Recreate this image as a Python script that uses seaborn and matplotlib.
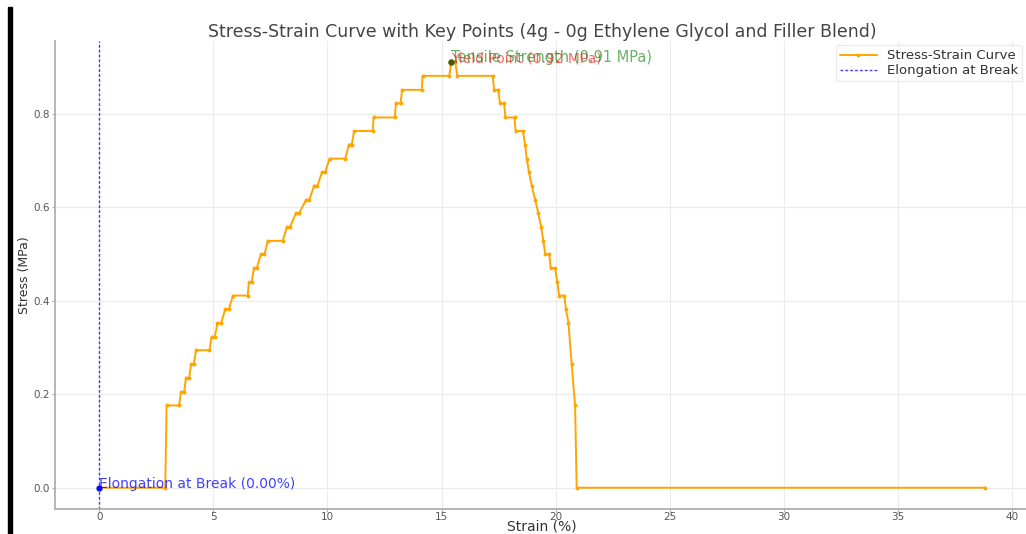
import matplotlib
matplotlib.use("Agg")
import matplotlib.pyplot as plt
from matplotlib.patches import Rectangle
import pandas as pd
import seaborn as sns

# ---- data ----
strain = [0.00, 2.89,
          2.95, 3.50, 3.58, 3.72, 3.80, 3.94, 4.02, 4.14, 4.24, 4.83,
          4.92, 5.06, 5.18, 5.34, 5.52, 5.68, 5.86, 6.50, 6.56, 6.68,
          6.78, 6.90, 7.08, 7.24, 7.38, 8.04, 8.22, 8.36, 8.62, 8.76,
          9.06, 9.20, 9.42, 9.56, 9.76, 9.90, 10.09, 10.78, 10.94, 11.06,
          11.17, 11.98, 12.02, 12.95, 13.00, 13.20, 13.27, 14.13, 14.17, 15.34,
          15.42, 15.60,
          15.69, 17.24, 17.30, 17.48, 17.56, 17.74, 17.80, 18.20, 18.24, 18.56,
          18.66, 18.73, 18.83, 18.95, 19.10, 19.24, 19.36, 19.46, 19.54, 19.72,
          19.78, 19.97, 20.07, 20.15, 20.37, 20.45, 20.56, 20.70, 20.85,
          20.92, 38.80]
stress = [0.000, 0.000,
          0.176, 0.176, 0.205, 0.205, 0.235, 0.235, 0.264, 0.264, 0.294, 0.294,
          0.323, 0.323, 0.352, 0.352, 0.382, 0.382, 0.411, 0.411, 0.440, 0.440,
          0.470, 0.470, 0.499, 0.499, 0.528, 0.528, 0.558, 0.558, 0.587, 0.587,
          0.616, 0.616, 0.646, 0.646, 0.675, 0.675, 0.704, 0.704, 0.734, 0.734,
          0.763, 0.763, 0.792, 0.792, 0.822, 0.822, 0.851, 0.851, 0.881, 0.881,
          0.910, 0.910,
          0.881, 0.881, 0.851, 0.851, 0.822, 0.822, 0.792, 0.792, 0.763, 0.763,
          0.734, 0.704, 0.675, 0.646, 0.616, 0.587, 0.558, 0.528, 0.499, 0.499,
          0.470, 0.470, 0.440, 0.411, 0.411, 0.382, 0.352, 0.264, 0.176,
          0.000, 0.000]

max_stress = 0.91
max_strain = 15.40
yield_stress = 0.91
elongation_break = 0.00

title = "Stress-Strain Curve with Key Points (4g - 0g Ethylene Glycol and Filler Blend)"

df = pd.DataFrame({"Strain": strain, "Stress": stress})

sns.set_theme(style="whitegrid")
plt.rcParams["font.family"] = ["DejaVu Sans"]

fig = plt.figure(figsize=(10.26, 5.34), dpi=100)
ax = fig.add_axes([55 / 1026, 25 / 534, 974 / 1026, 468 / 534])

sns.lineplot(data=df, x="Strain", y="Stress", ax=ax, estimator=None, sort=False,
             color="orange", linewidth=1.4, marker="o", markersize=2.8,
             markeredgewidth=0, label="Stress-Strain Curve")

ax.axvline(elongation_break, color="blue", linestyle=(0, (2, 1.5)), linewidth=1.0,
           alpha=0.75, label="Elongation at Break")

ax.scatter([max_strain], [yield_stress], color="red", s=12, zorder=5)
ax.scatter([max_strain], [max_stress], color="green", s=12, zorder=5, alpha=0.7)
ax.text(max_strain, yield_stress, "Yield Point (0.92 MPa)", color="red",
        fontsize=10, ha="left", va="baseline", alpha=0.6)
ax.text(max_strain, max_stress, "Tensile Strength (0.91 MPa)", color="green",
        fontsize=10.5, ha="left", va="baseline", alpha=0.6)

ax.scatter([elongation_break], [0.0], color="blue", s=12, zorder=5)
ax.text(elongation_break, 0.0, "Elongation at Break (0.00%)", color="blue",
        fontsize=10, ha="left", va="baseline", alpha=0.75)

ax.set_xlim(-1.94, 40.74)
ax.set_ylim(-0.0455, 0.9555)
ax.set_xticks([0, 5, 10, 15, 20, 25, 30, 35, 40])
ax.set_yticks([0.0, 0.2, 0.4, 0.6, 0.8])

ax.set_title(title, fontsize=12.5, color="#444444", pad=3)
ax.set_xlabel("Strain (%)", fontsize=10, color="#333333", labelpad=-2.5)
ax.set_ylabel("Stress (MPa)", fontsize=9, color="#333333", labelpad=2)

ax.grid(True, color="#ebebeb", linewidth=0.8)
for side in ["top", "right"]:
    ax.spines[side].set_visible(False)
for side in ["left", "bottom"]:
    ax.spines[side].set_color("#b0b0b0")
    ax.spines[side].set_linewidth(1.3)
ax.tick_params(axis="both", length=2.5, width=0.8, color="#b0b0b0",
               labelsize=7.5, labelcolor="#555555", pad=1)
ax.tick_params(axis="x", pad=0)
ax.tick_params(axis="both", which="both", bottom=True, left=True)

leg = ax.legend(loc="upper right", fontsize=9.5, frameon=True,
                bbox_to_anchor=(1.0, 1.005), labelspacing=0.15, borderpad=0.3,
                handlelength=2.8, handletextpad=0.8)
leg.get_frame().set_edgecolor("#e6e6e6")
for t in leg.get_texts():
    t.set_color("#333333")

fig.patches.append(Rectangle((8 / 1026, 0), 4 / 1026, 527 / 534,
                             transform=fig.transFigure, color="black"))

fig.savefig("out.png", dpi=100)
